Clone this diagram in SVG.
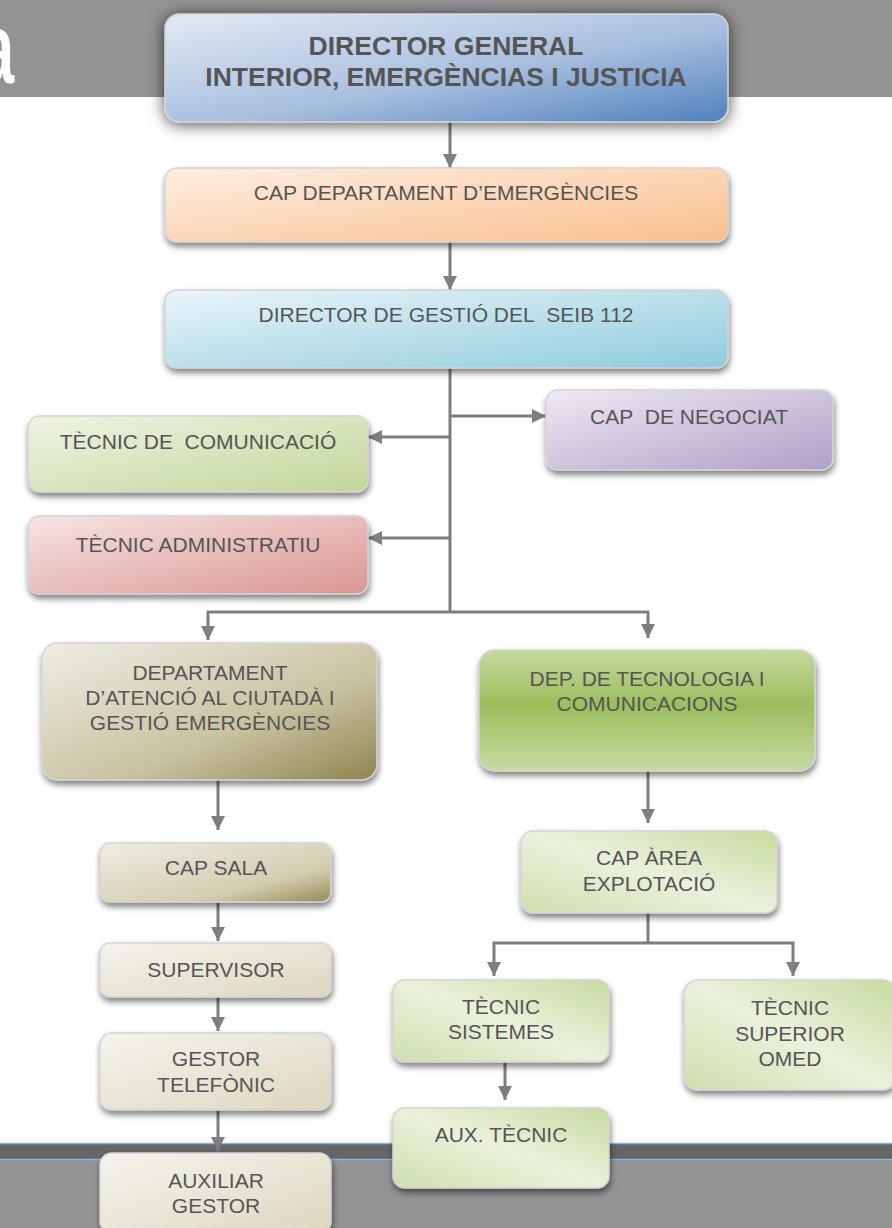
<svg xmlns="http://www.w3.org/2000/svg" width="892" height="1228" viewBox="0 0 892 1228">
<style>
  .lbl { font-family: "Liberation Sans", Arial, sans-serif; font-size: 21px; fill: #555555; text-anchor: middle; }
  .big { font-size: 26.5px; font-weight: bold; }
  .box { stroke: #d4d4d4; stroke-width: 1.5; filter: url(#sh); }
  .con { fill: none; stroke: #7f7f7f; stroke-width: 3; }
</style>
<defs>
  <filter id="sh" x="-20%" y="-20%" width="140%" height="150%">
    <feDropShadow dx="1" dy="4" stdDeviation="3" flood-color="#000" flood-opacity="0.5"/>
  </filter>
  <filter id="shTop" x="-20%" y="-30%" width="140%" height="160%">
    <feDropShadow dx="0" dy="2" stdDeviation="8" flood-color="#000" flood-opacity="0.7"/>
  </filter>
  <marker id="ah" viewBox="0 0 10 10" refX="10" refY="5" markerWidth="14" markerHeight="14" markerUnits="userSpaceOnUse" orient="auto">
    <path d="M0,0 L10,5 L0,10 z" fill="#7f7f7f"/>
  </marker>
  <linearGradient id="gBlue" x1="0" y1="0" x2="1" y2="1"><stop offset="0" stop-color="#e3eaf4"/><stop offset="0.55" stop-color="#a9bfdf"/><stop offset="1" stop-color="#4f81bd"/></linearGradient>
  <linearGradient id="gOrange" x1="0" y1="0" x2="1" y2="1"><stop offset="0" stop-color="#fdeee2"/><stop offset="1" stop-color="#fabf8c"/></linearGradient>
  <linearGradient id="gCyan" x1="0" y1="0" x2="1" y2="1"><stop offset="0" stop-color="#eaf5f9"/><stop offset="1" stop-color="#8ecbdc"/></linearGradient>
  <linearGradient id="gPurple" x1="0" y1="0" x2="1" y2="1"><stop offset="0" stop-color="#eeeaf3"/><stop offset="1" stop-color="#b09fc6"/></linearGradient>
  <linearGradient id="gLGreen" x1="0" y1="0" x2="1" y2="1"><stop offset="0" stop-color="#eff4e4"/><stop offset="1" stop-color="#c2d699"/></linearGradient>
  <linearGradient id="gPink" x1="0" y1="0" x2="1" y2="1"><stop offset="0" stop-color="#f6e5e4"/><stop offset="1" stop-color="#da9592"/></linearGradient>
  <linearGradient id="gKhaki" x1="0" y1="0" x2="1" y2="1"><stop offset="0" stop-color="#eeede5"/><stop offset="0.6" stop-color="#c9c3a2"/><stop offset="1" stop-color="#8f8550"/></linearGradient>
  <linearGradient id="gKhaki2" x1="0" y1="0" x2="1" y2="1"><stop offset="0" stop-color="#efede5"/><stop offset="0.7" stop-color="#d3cdb0"/><stop offset="1" stop-color="#958b56"/></linearGradient>
  <linearGradient id="gCream" x1="0" y1="0" x2="1" y2="1"><stop offset="0" stop-color="#f5f3ed"/><stop offset="1" stop-color="#ddd7c0"/></linearGradient>
  <linearGradient id="gGreen" x1="0" y1="0" x2="0" y2="1"><stop offset="0" stop-color="#c6d9a0"/><stop offset="0.45" stop-color="#9cbd5c"/><stop offset="1" stop-color="#c8daa2"/></linearGradient>
  <linearGradient id="gSoftGreen" x1="0" y1="1" x2="1" y2="0"><stop offset="0" stop-color="#cfdfae"/><stop offset="0.5" stop-color="#eaf1dc"/><stop offset="1" stop-color="#c8db9f"/></linearGradient>
</defs>

<!-- background bands -->
<rect x="0" y="0" width="892" height="97" fill="#939393"/>
<text transform="scale(0.6,1)" x="-32" y="83" style="font-family:'Liberation Sans',Arial,sans-serif;font-size:100px;font-weight:bold;fill:#ffffff">a</text>
<rect x="0" y="1143" width="892" height="85" fill="#939393"/>
<rect x="0" y="1144" width="892" height="15" fill="#666666"/>
<line x1="0" y1="1143.5" x2="892" y2="1143.5" stroke="#8db3e2" stroke-width="1.5"/>
<line x1="0" y1="1159.5" x2="892" y2="1159.5" stroke="#8db3e2" stroke-width="1.5"/>

<!-- connectors -->
<g id="connectors">
  <path class="con" d="M450,122 V168" marker-end="url(#ah)"/>
  <path class="con" d="M450,242 V290" marker-end="url(#ah)"/>
  <path class="con" d="M450,368 V612"/>
  <path class="con" d="M450,416 H546" marker-end="url(#ah)"/>
  <path class="con" d="M450,437 H368" marker-end="url(#ah)"/>
  <path class="con" d="M450,538 H368" marker-end="url(#ah)"/>
  <path class="con" d="M450,612 H208 V640" marker-end="url(#ah)"/>
  <path class="con" d="M450,612 H648 V638" marker-end="url(#ah)"/>
  <path class="con" d="M218,780 V830" marker-end="url(#ah)"/>
  <path class="con" d="M218,902 V941" marker-end="url(#ah)"/>
  <path class="con" d="M218,997 V1031" marker-end="url(#ah)"/>
  <path class="con" d="M218,1110 V1151" marker-end="url(#ah)"/>
  <path class="con" d="M648,771 V823" marker-end="url(#ah)"/>
  <path class="con" d="M648,913 V943"/>
  <path class="con" d="M648,943 H494 V976" marker-end="url(#ah)"/>
  <path class="con" d="M648,943 H793 V976" marker-end="url(#ah)"/>
  <path class="con" d="M505,1062 V1100" marker-end="url(#ah)"/>
</g>

<g id="n-director-general">
  <rect x="165" y="14" width="563" height="108" rx="15" fill="url(#gBlue)" stroke="#d4d4d4" stroke-width="1.5" filter="url(#shTop)"/>
  <text class="lbl big" x="446" y="55">DIRECTOR GENERAL</text>
  <text class="lbl big" x="446" y="86">INTERIOR, EMERGÈNCIAS I JUSTICIA</text>
</g>
<g id="n-cap-departament">
  <rect class="box" x="165" y="168" width="563" height="74" rx="12" fill="url(#gOrange)"/>
  <text class="lbl" x="446" y="200">CAP DEPARTAMENT D’EMERGÈNCIES</text>
</g>
<g id="n-director-gestio">
  <rect class="box" x="165" y="290" width="563" height="78" rx="12" fill="url(#gCyan)"/>
  <text class="lbl" x="446" y="322">DIRECTOR DE GESTIÓ DEL&#160; SEIB 112</text>
</g>
<g id="n-cap-negociat">
  <rect class="box" x="546" y="390" width="287" height="80" rx="12" fill="url(#gPurple)"/>
  <text class="lbl" x="689" y="424">CAP&#160; DE NEGOCIAT</text>
</g>
<g id="n-tecnic-comunicacio">
  <rect class="box" x="28" y="416" width="340" height="76" rx="12" fill="url(#gLGreen)"/>
  <text class="lbl" x="198" y="449">TÈCNIC DE&#160; COMUNICACIÓ</text>
</g>
<g id="n-tecnic-administratiu">
  <rect class="box" x="28" y="516" width="340" height="78" rx="12" fill="url(#gPink)"/>
  <text class="lbl" x="198" y="552">TÈCNIC ADMINISTRATIU</text>
</g>
<g id="n-dep-atencio">
  <rect class="box" x="42" y="643" width="335" height="137" rx="16" fill="url(#gKhaki)"/>
  <text class="lbl" x="210" y="680">DEPARTAMENT</text>
  <text class="lbl" x="210" y="705">D’ATENCIÓ AL CIUTADÀ I</text>
  <text class="lbl" x="210" y="730">GESTIÓ EMERGÈNCIES</text>
</g>
<g id="n-dep-tecnologia">
  <rect class="box" x="479" y="650" width="336" height="121" rx="16" fill="url(#gGreen)"/>
  <text class="lbl" x="647" y="686">DEP. DE TECNOLOGIA I</text>
  <text class="lbl" x="647" y="711">COMUNICACIONS</text>
</g>
<g id="n-cap-sala">
  <rect class="box" x="100" y="843" width="231" height="59" rx="10" fill="url(#gKhaki2)"/>
  <text class="lbl" x="216" y="875">CAP SALA</text>
</g>
<g id="n-supervisor">
  <rect class="box" x="100" y="943" width="231" height="54" rx="10" fill="url(#gCream)"/>
  <text class="lbl" x="216" y="977">SUPERVISOR</text>
</g>
<g id="n-gestor-telefonic">
  <rect class="box" x="100" y="1033" width="231" height="77" rx="12" fill="url(#gCream)"/>
  <text class="lbl" x="216" y="1066">GESTOR</text>
  <text class="lbl" x="216" y="1092">TELEFÒNIC</text>
</g>
<g id="n-auxiliar-gestor">
  <rect class="box" x="100" y="1153" width="231" height="80" rx="12" fill="url(#gCream)"/>
  <text class="lbl" x="216" y="1188">AUXILIAR</text>
  <text class="lbl" x="216" y="1213">GESTOR</text>
</g>
<g id="n-cap-area">
  <rect class="box" x="521" y="831" width="256" height="82" rx="12" fill="url(#gSoftGreen)"/>
  <text class="lbl" x="649" y="865">CAP ÀREA</text>
  <text class="lbl" x="649" y="891">EXPLOTACIÓ</text>
</g>
<g id="n-tecnic-sistemes">
  <rect class="box" x="393" y="980" width="216" height="82" rx="12" fill="url(#gSoftGreen)"/>
  <text class="lbl" x="501" y="1014">TÈCNIC</text>
  <text class="lbl" x="501" y="1039">SISTEMES</text>
</g>
<g id="n-tecnic-superior">
  <rect class="box" x="684" y="980" width="212" height="110" rx="14" fill="url(#gSoftGreen)"/>
  <text class="lbl" x="790" y="1015">TÈCNIC</text>
  <text class="lbl" x="790" y="1041">SUPERIOR</text>
  <text class="lbl" x="790" y="1066">OMED</text>
</g>
<g id="n-aux-tecnic">
  <rect class="box" x="393" y="1108" width="216" height="80" rx="12" fill="url(#gSoftGreen)"/>
  <text class="lbl" x="501" y="1142">AUX. TÈCNIC</text>
</g>
</svg>
